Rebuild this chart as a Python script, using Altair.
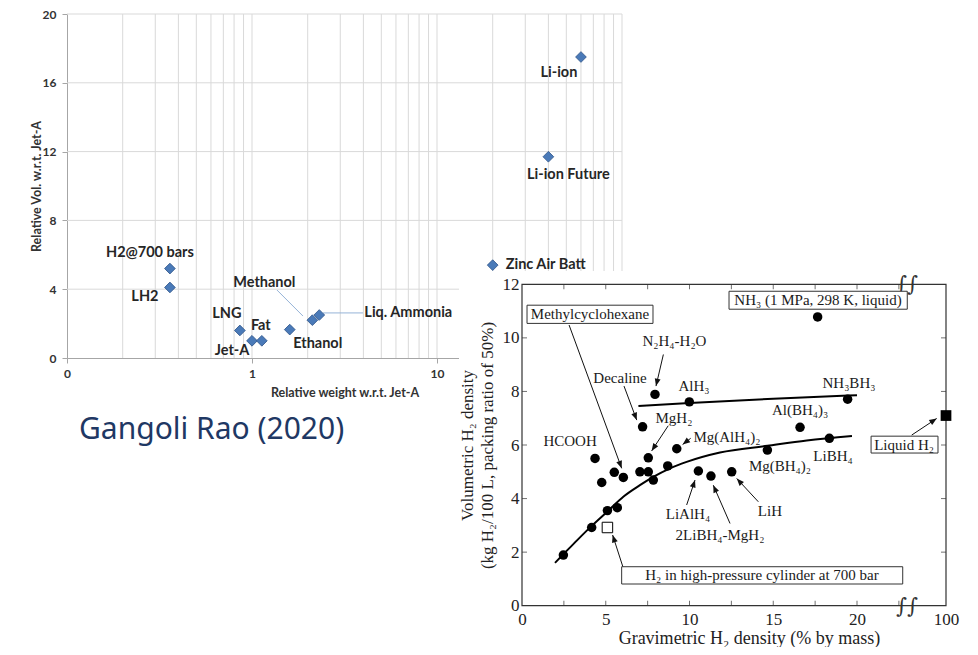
import math
import altair as alt
import pandas as pd

# ---------------- Left chart (Gangoli Rao 2020) ----------------
fuel_names = ["Li-ion", "Li-ion Future", "Zinc Air Batt", "H2@700 bars", "LH2",
              "LNG", "Jet-A", "Fat", "Ethanol", "Methanol", "Liq. Ammonia"]
rel_weight = [60, 40, 20, 0.36, 0.36, 0.86, 1.0, 1.13, 1.6, 2.12, 2.31]
rel_volume = [17.5, 11.7, 5.4, 5.2, 4.1, 1.6, 1.0, 1.0, 1.65, 2.2, 2.5]
x1_ticks = [0.1, 1, 10]
y1_ticks = [0, 4, 8, 12, 16, 20]
x1_grid = [0.2, 0.3, 0.4, 0.5, 0.6, 0.7, 0.8, 0.9, 1, 2, 3, 4, 5, 6, 7, 8, 9,
           10, 20, 30, 40, 50, 60, 70, 80, 90, 100]
y1_grid = [4, 8, 12, 16, 20]
leader_x = [1.365, 2.42]
leader_y = [3.95, 2.62]
leader_x2 = [1.886, 3.98]
leader_y2 = [2.44, 2.62]
caption = "Gangoli Rao (2020)"

# ---------------- Right chart (hydrogen carriers) ----------------
mat_x = [17.65, 7.94, 9.99, 19.44, 7.2, 7.54, 9.24, 16.6, 18.35, 14.65, 10.53,
         11.28, 12.52, 4.36, 4.76, 5.51, 6.05, 7.04, 7.54, 7.84, 8.7, 5.1, 5.69,
         4.16, 2.47]
mat_y = [10.78, 7.89, 7.61, 7.71, 6.68, 5.52, 5.86, 6.66, 6.25, 5.81, 5.03,
         4.84, 5.0, 5.5, 4.6, 4.98, 4.79, 5.0, 5.0, 4.69, 5.22, 3.55, 3.66,
         2.92, 1.89]
fit_low_x = [1.97, 2.47, 3.3, 4.16, 5.1, 6.05, 7.04, 7.84, 8.84, 9.83, 11.82,
             14.65, 17.0, 19.7]
fit_low_y = [1.6, 1.92, 2.45, 2.98, 3.52, 4.07, 4.5, 4.81, 5.13, 5.37, 5.72,
             5.97, 6.17, 6.34]
fit_high_x = [6.95, 10, 15, 20]
fit_high_y = [7.46, 7.57, 7.73, 7.86]
cyl_x = [5.1]
cyl_y = [2.92]
liq_x = [100]
liq_y = [7.1]

label_text = ["N₂H₄-H₂O", "Decaline", "AlH₃", "MgH₂", "Mg(AlH₄)₂", "NH₃BH₃",
              "Al(BH₄)₃", "LiBH₄", "Mg(BH₄)₂", "LiAlH₄", "2LiBH₄-MgH₂", "LiH",
              "HCOOH"]
label_x = [9.10, 5.85, 10.27, 9.07, 12.24, 19.52, 16.6, 18.57, 15.4, 9.91,
           11.82, 14.8, 2.87]
label_y = [9.88, 8.50, 8.20, 7.0, 6.30, 8.31, 7.30, 5.59, 5.21, 3.42, 2.64,
           3.53, 6.15]

box_text = ["Methylcyclohexane", "NH₃ (1 MPa, 298 K, liquid)", "Liquid H₂",
            "H₂ in high-pressure cylinder at 700 bar"]
box_tx = [4.06, 17.67, 22.81, 14.33]
box_ty = [10.88, 11.41, 6.01, 1.13]
box_x1 = [0.30, 12.36, 20.84, 5.95]
box_x2 = [7.82, 23.04, 84.1, 22.73]
box_y1 = [10.54, 11.07, 5.70, 0.81]
box_y2 = [11.22, 11.74, 6.33, 1.455]

arr_x1 = [2.81, 8.44, 6.09, 8.73, 10.07, 9.83, 12.42, 14.11, 31.8, 6.05]
arr_y1 = [10.48, 9.38, 8.2, 6.72, 6.25, 3.76, 3.07, 3.88, 6.37, 1.40]
arr_x2 = [5.95, 8.0, 6.85, 7.74, 9.59, 10.33, 11.42, 12.82, 81.5, 5.41]
arr_y2 = [5.13, 8.2, 6.93, 5.78, 6.02, 4.69, 4.5, 4.75, 6.99, 2.64]

x2_labels = [0, 5, 10, 15, 20, 100]
x2_minor = [2.5, 5, 7.5, 10, 12.5, 15, 17.5, 20, 22.5]
y2_labels = [0, 2, 4, 6, 8, 10, 12]
y2_minor = [2, 4, 6, 8, 10]
x_break = [23]

# ---------------- canvas & scales ----------------
W, H = 962, 639
X1 = alt.Scale(type="log", domain=[0.1, 100], range=[59, 614])
Y1 = alt.Scale(domain=[0, 20], range=[350, 6], zero=False, nice=False)
X2 = alt.Scale(domain=[0, 23, 100], range=[514, 899.25, 938], zero=False, nice=False)
Y2 = alt.Scale(domain=[0, 12], range=[597.7, 276.3], zero=False, nice=False)


def px2(x):
    if x <= 23:
        return 514 + x * 16.75
    return 899.25 + (x - 23) * (38.75 / 77)


def py2(y):
    return 597.7 - y * 26.783


CAL = "Lato"
SERIF = "Liberation Serif, DejaVu Serif"
TXT1 = "#262626"

layers = []

# ---------------- left chart layers ----------------
layers.append(alt.Chart(pd.DataFrame({"g": x1_grid, "lo": [0] * len(x1_grid),
                                      "hi": [20] * len(x1_grid)})).mark_rule(
    color="#d9d9d9", strokeWidth=1).encode(
    x=alt.X("g:Q", scale=X1, axis=None),
    y=alt.Y("lo:Q", scale=Y1, axis=None), y2="hi:Q"))
layers.append(alt.Chart(pd.DataFrame({"g": y1_grid, "lo": [0.1] * len(y1_grid),
                                      "hi": [100] * len(y1_grid)})).mark_rule(
    color="#d9d9d9", strokeWidth=1).encode(
    y=alt.Y("g:Q", scale=Y1, axis=None),
    x=alt.X("lo:Q", scale=X1, axis=None), x2="hi:Q"))
layers.append(alt.Chart(pd.DataFrame({"x": leader_x, "y": leader_y,
                                      "x2": leader_x2, "y2": leader_y2})).mark_rule(
    color="#95b3d7", strokeWidth=1).encode(
    x=alt.X("x:Q", scale=X1, axis=None), y=alt.Y("y:Q", scale=Y1, axis=None),
    x2="x2:Q", y2="y2:Q"))

df1 = pd.DataFrame({"w": rel_weight, "v": rel_volume, "n": fuel_names})
layers.append(alt.Chart(df1).mark_point(
    shape="diamond", filled=True, fill="#4a7ab8", stroke="#2c5286",
    strokeWidth=0.8, size=115, opacity=1).encode(
    x=alt.X("w:Q", scale=X1, axis=alt.Axis(
        orient="bottom", offset=350 - H, values=x1_ticks, grid=False,
        labelExpr="datum.value < 0.5 ? '0' : format(datum.value, 'd')",
        labelFlush=False,
        domainColor="#a6a6a6", tickColor="#a6a6a6", tickSize=5,
        labelFont=CAL, labelFontWeight="bold", labelFontSize=12,
        labelColor="#333333", labelPadding=5,
        title="Relative weight w.r.t. Jet-A", titleFont=CAL,
        titleFontWeight="bold", titleFontSize=12.5, titleColor="#333333",
        titlePadding=7)),
    y=alt.Y("v:Q", scale=Y1, axis=alt.Axis(
        orient="left", offset=-59, values=y1_ticks, grid=False,
        labelFlush=False,
        domainColor="#a6a6a6", tickColor="#a6a6a6", tickSize=5,
        labelFont=CAL, labelFontWeight="bold", labelFontSize=12,
        labelColor="#333333", labelPadding=6,
        title="Relative Vol. w.r.t. Jet-A", titleFont=CAL,
        titleFontWeight="bold", titleFontSize=12.5, titleColor="#333333",
        titlePadding=-1))))

offsets1 = {
    "Li-ion": (-22, 16, "center"), "Li-ion Future": (20, 18, "center"),
    "Zinc Air Batt": (13, 0, "left"), "H2@700 bars": (-20, -16, "center"),
    "LH2": (-25, 10, "center"), "LNG": (-13, -16, "center"),
    "Jet-A": (-20, 10, "center"), "Fat": (-1, -15, "center"),
    "Ethanol": (28, 14, "center"), "Methanol": (-48, -37, "center"),
    "Liq. Ammonia": (89, -2, "center"),
}
for n, w, v in zip(fuel_names, rel_weight, rel_volume):
    dx, dy, al = offsets1[n]
    layers.append(alt.Chart(pd.DataFrame({"w": [w], "v": [v], "n": [n]})).mark_text(
        dx=dx, dy=dy, align=al, font=CAL, fontWeight="bold", fontSize=14.5,
        color=TXT1).encode(
        x=alt.X("w:Q", scale=X1, axis=None), y=alt.Y("v:Q", scale=Y1, axis=None),
        text="n:N"))

layers.append(alt.Chart(pd.DataFrame({"t": [caption]})).mark_text(
    font="Noto Sans", fontSize=30, color="#1f3864", align="left").encode(
    x=alt.value(71), y=alt.value(422), text="t:N"))

# ---------------- right chart layers ----------------
layers.append(alt.Chart(pd.DataFrame({"a": [0]})).mark_rect(fill="white").encode(
    x=alt.value(451), x2=alt.value(W), y=alt.value(263), y2=alt.value(H)))

layers.append(alt.Chart(pd.DataFrame({"x": [0], "x2": [100], "y": [0], "y2": [12]})).mark_rect(
    fillOpacity=0, stroke="#333333", strokeWidth=1.2).encode(
    x=alt.X("x:Q", scale=X2, axis=None), x2="x2:Q",
    y=alt.Y("y:Q", scale=Y2, axis=None), y2="y2:Q"))

tk = dict(color="#333333", thickness=1, size=5)
layers.append(alt.Chart(pd.DataFrame({"t": x2_minor, "b": [0] * len(x2_minor)})).mark_tick(
    orient="vertical", yOffset=-2.5, **tk).encode(
    x=alt.X("t:Q", scale=X2, axis=None), y=alt.Y("b:Q", scale=Y2, axis=None)))
layers.append(alt.Chart(pd.DataFrame({"t": x2_minor, "b": [12] * len(x2_minor)})).mark_tick(
    orient="vertical", yOffset=2.5, **tk).encode(
    x=alt.X("t:Q", scale=X2, axis=None), y=alt.Y("b:Q", scale=Y2, axis=None)))
layers.append(alt.Chart(pd.DataFrame({"t": y2_minor, "b": [0] * len(y2_minor)})).mark_tick(
    orient="horizontal", xOffset=2.5, **tk).encode(
    y=alt.Y("t:Q", scale=Y2, axis=None), x=alt.X("b:Q", scale=X2, axis=None)))
layers.append(alt.Chart(pd.DataFrame({"t": y2_minor, "b": [100] * len(y2_minor)})).mark_tick(
    orient="horizontal", xOffset=-2.5, **tk).encode(
    y=alt.Y("t:Q", scale=Y2, axis=None), x=alt.X("b:Q", scale=X2, axis=None)))

layers.append(alt.Chart(pd.DataFrame({"x": x_break * 2, "y": [0, 12], "s": ["∫∫", "∫∫"]})).mark_text(
    font="DejaVu Serif", fontSize=21, color="#333333", dy=1).encode(
    x=alt.X("x:Q", scale=X2, axis=None), y=alt.Y("y:Q", scale=Y2, axis=None),
    text="s:N"))

for fx, fy in ((fit_low_x, fit_low_y), (fit_high_x, fit_high_y)):
    layers.append(alt.Chart(pd.DataFrame({"x": fx, "y": fy})).mark_line(
        color="black", strokeWidth=2, interpolate="monotone").encode(
        x=alt.X("x:Q", scale=X2, axis=None), y=alt.Y("y:Q", scale=Y2, axis=None)))

angles = []
for a, b, c, d in zip(arr_x1, arr_y1, arr_x2, arr_y2):
    dxp = px2(c) - px2(a)
    dyp = py2(d) - py2(b)
    angles.append(math.degrees(math.atan2(dxp, -dyp)) % 360)
df_arr = pd.DataFrame({"x": arr_x1, "y": arr_y1, "x2": arr_x2, "y2": arr_y2,
                       "a": angles})
layers.append(alt.Chart(df_arr).mark_rule(color="#111111", strokeWidth=1).encode(
    x=alt.X("x:Q", scale=X2, axis=None), y=alt.Y("y:Q", scale=Y2, axis=None),
    x2="x2:Q", y2="y2:Q"))
layers.append(alt.Chart(df_arr).mark_point(
    shape="M0,0L-0.4,1L0.4,1Z", filled=True, color="#111111", size=220,
    opacity=1).encode(
    x=alt.X("x2:Q", scale=X2, axis=None), y=alt.Y("y2:Q", scale=Y2, axis=None),
    angle=alt.Angle("a:Q", scale=None)))

ax_common = dict(domain=False, ticks=False, grid=False, labelFlush=False,
                 labelFont=SERIF, labelFontSize=17, labelColor="#222222",
                 titleFont=SERIF, titleFontWeight="normal", titleColor="#222222",
                 zindex=1)
layers.append(alt.Chart(pd.DataFrame({"x": mat_x, "y": mat_y})).mark_point(
    shape="circle", filled=True, color="black", size=90, opacity=1).encode(
    x=alt.X("x:Q", scale=X2, axis=alt.Axis(
        orient="bottom", offset=597.7 - H, values=x2_labels, labelPadding=6,
        title="Gravimetric H₂ density (% by mass)", titleFontSize=18,
        titleBaseline="alphabetic", titleY=37.5, titleX=741, **ax_common)),
    y=alt.Y("y:Q", scale=Y2, axis=alt.Axis(
        orient="left", offset=-514, values=y2_labels, labelPadding=3,
        title=["Volumetric H₂ density", "(kg H₂/100 L, packing ratio of 50%)"],
        titleFontSize=17, titleLineHeight=20, titlePadding=6, **ax_common))))

layers.append(alt.Chart(pd.DataFrame({"x": cyl_x, "y": cyl_y})).mark_point(
    shape="square", filled=True, fill="white", stroke="black", strokeWidth=1,
    size=110, opacity=1).encode(
    x=alt.X("x:Q", scale=X2, axis=None), y=alt.Y("y:Q", scale=Y2, axis=None)))
layers.append(alt.Chart(pd.DataFrame({"x": liq_x, "y": liq_y})).mark_point(
    shape="square", filled=True, color="black", size=115, opacity=1).encode(
    x=alt.X("x:Q", scale=X2, axis=None), y=alt.Y("y:Q", scale=Y2, axis=None)))

layers.append(alt.Chart(pd.DataFrame({"x1": box_x1, "x2": box_x2, "y1": box_y1,
                                      "y2": box_y2})).mark_rect(
    fill="white", stroke="#333333", strokeWidth=1).encode(
    x=alt.X("x1:Q", scale=X2, axis=None), x2="x2:Q",
    y=alt.Y("y1:Q", scale=Y2, axis=None), y2="y2:Q"))
layers.append(alt.Chart(pd.DataFrame({"x": box_tx, "y": box_ty, "t": box_text})).mark_text(
    font=SERIF, fontSize=15, color="#1a1a1a").encode(
    x=alt.X("x:Q", scale=X2, axis=None), y=alt.Y("y:Q", scale=Y2, axis=None),
    text="t:N"))
layers.append(alt.Chart(pd.DataFrame({"x": label_x, "y": label_y, "t": label_text})).mark_text(
    font=SERIF, fontSize=15, color="#1a1a1a").encode(
    x=alt.X("x:Q", scale=X2, axis=None), y=alt.Y("y:Q", scale=Y2, axis=None),
    text="t:N"))

chart = alt.layer(*layers).resolve_scale(
    x="independent", y="independent").properties(
    width=W, height=H, padding=0,
    autosize=alt.AutoSizeParams(type="none")).configure_view(stroke=None)

chart.save("out.html", embed_options={"renderer": "svg", "actions": False})
